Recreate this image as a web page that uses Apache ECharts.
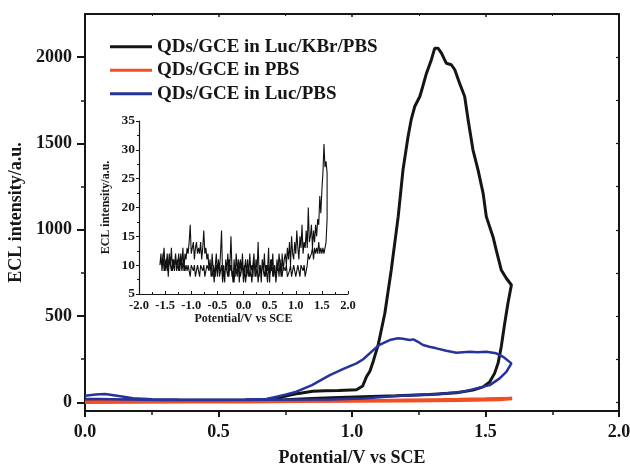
<!DOCTYPE html>
<html>
<head>
<meta charset="utf-8">
<script src="https://cdn.jsdelivr.net/npm/echarts@6/dist/echarts.min.js"></script>
<style>
html,body{margin:0;padding:0;background:#fff;}
#chart{width:630px;height:470px;}
</style>
</head>
<body>
<div id="chart"></div>
<script>
// ---------- main plot data ----------
const seriesNames = ['QDs/GCE in Luc/KBr/PBS', 'QDs/GCE in PBS', 'QDs/GCE in Luc/PBS'];

const blackPot = [0.00,0.10,0.20,0.30,0.40,0.50,0.60,0.68,0.72,0.76,0.80,0.853,0.90,0.95,1.017,1.04,1.054,1.067,1.08,1.092,1.098,1.123,1.147,1.173,1.191,1.210,1.222,1.235,1.254,1.265,1.279,1.297,1.310,1.322,1.335,1.353,1.372,1.385,1.403,1.422,1.435,1.453,1.472,1.491,1.503,1.528,1.540,1.559,1.578,1.597,
  1.584,1.572,1.559,1.547,1.534,1.516,1.491,1.453,1.391,1.291,1.166,1.042,0.95,0.85,0.75,0.60,0.40,0.20,0.00];
const blackECL = [15,14,13,13,13,13,14,16,25,40,52,65,67,69,73,95,148,180,240,303,332,516,767,1076,1347,1540,1640,1714,1772,1830,1907,1984,2052,2052,2023,1965,1956,1927,1849,1772,1636,1463,1347,1212,1076,960,883,767,719,680,
  574,458,322,226,168,119,90,71,56,46,38,33,28,22,15,12,11,11,12];

const redPot = [0.00,0.10,0.20,0.30,0.40,0.50,0.60,0.70,0.80,0.90,1.00,1.10,1.20,1.30,1.40,1.50,1.55,1.60,1.60,1.55,1.50,1.40,1.30,1.20,1.00,0.80,0.60,0.40,0.20,0.00];
const redECL = [2,3,3,4,4,5,5,6,7,8,9,10,12,14,16,19,21,22,18,17,15,13,11,10,8,6,4,3,2,1];

const bluePot = [0.00,0.04,0.075,0.12,0.18,0.25,0.35,0.50,0.60,0.68,0.717,0.75,0.792,0.85,0.917,0.97,1.017,1.042,1.092,1.105,1.141,1.173,1.19,1.216,1.23,1.247,1.266,1.29,1.316,1.353,1.391,1.441,1.47,1.503,1.540,1.566,1.597,
  1.578,1.553,1.516,1.466,1.416,1.329,1.166,1.042,0.917,0.70,0.50,0.30,0.15,0.05,0.00];
const blueECL = [38,45,48,38,24,18,16,15,16,20,33,45,62,100,158,195,226,250,320,335,361,371,368,361,365,351,332,322,313,299,288,293,290,293,284,264,226,
  177,139,100,81,62,48,37,23,17,15,14,14,16,19,20];

// ---------- inset data ----------
const insetPot = [
  -1.60,-1.58,-1.56,-1.54,-1.52,-1.50,-1.48,-1.46,-1.44,-1.42,
  -1.40,-1.38,-1.36,-1.34,-1.32,-1.30,-1.28,-1.26,-1.24,-1.22,
  -1.20,-1.18,-1.16,-1.14,-1.12,-1.10,-1.08,-1.06,-1.04,-1.02,
  -1.00,-0.98,-0.96,-0.94,-0.92,-0.90,-0.88,-0.86,-0.84,-0.82,
  -0.80,-0.78,-0.76,-0.74,-0.72,-0.70,-0.68,-0.66,-0.64,-0.62,
  -0.60,-0.58,-0.56,-0.54,-0.52,-0.50,-0.48,-0.46,-0.44,-0.42,
  -0.40,-0.38,-0.36,-0.34,-0.32,-0.30,-0.28,-0.26,-0.24,-0.22,
  -0.20,-0.18,-0.16,-0.14,-0.12,-0.10,-0.08,-0.06,-0.04,-0.02,
  0.00,0.02,0.04,0.06,0.08,0.10,0.12,0.14,0.16,0.18,
  0.20,0.22,0.24,0.26,0.28,0.30,0.32,0.34,0.36,0.38,
  0.40,0.42,0.44,0.46,0.48,0.50,0.52,0.54,0.56,0.58,
  0.60,0.62,0.64,0.66,0.68,0.70,0.72,0.74,0.76,0.78,
  0.80,0.82,0.84,0.86,0.88,0.90,0.92,0.94,0.96,0.98,
  1.00,1.02,1.04,1.06,1.08,1.10,1.12,1.14,1.16,1.18,
  1.20,1.22,1.24,1.26,1.28,1.30,1.32,1.34,1.36,1.38,
  1.40,1.42,1.44,1.46,1.48,1.50,1.52,1.54,1.56,1.58,
  1.60];
// forward sweep (-1.6 -> 1.6), one value per potential above
const insetFwdECL = [
  10,12,9,11,13,9,10,12,8,11,10,13,9,11,10,12,9,10,12,9,11,10,13,9,12,
  11,13,12,14,17,12,13,14,11,13,14,12,13,12,14,11,13,16,12,13,11,12,
  9,11,8,12,9,7,10,12,8,11,
  9,12,16,8,10,7,11,9,12,8,
  10,15,9,7,11,8,12,9,10,7,
  11,9,12,8,10,7,9,11,8,12,
  9,7,10,12,8,11,9,14,8,10,
  7,11,9,12,8,10,9,13,7,11,
  9,12,8,10,7,11,9,12,10,8,12,9,11,
  12,10,13,11,14,10,15,12,11,14,
  12,16,13,11,15,13,17,12,14,13,
  16,13,20,14,15,17,13,16,14,17,
  15,18,17,22,19,23,
  26,31,27,28,26];
// reverse sweep (1.6 -> -1.6)
const insetRevECL = [
  18,14,13,12,13,
  12,13,12,14,12,13,12,13,11,13,12,12,11,12,10,
  9,8,10,9,9,10,8,9,10,9,8,9,10,9,8,10,9,9,8,10,9,
  9,10,8,9,11,8,10,9,7,10,
  9,8,11,9,8,10,7,9,10,8,
  9,11,8,10,9,7,10,8,9,11,
  8,10,9,8,10,9,8,11,9,7,
  10,9,8,10,11,8,9,10,7,9,
  8,10,9,11,8,9,10,8,9,7,
  10,9,8,11,9,10,8,9,10,8,
  9,10,9,
  9,10,9,8,10,9,9,10,8,9,10,9,8,10,9,9,10,8,9,10,9,10,
  9,11,10,9,12,10,9,11,10,12,9,10,11,9,10,12,10,9,11,10,9,12,10,11,10];

// ---------- tick values ----------
const mainYTicks = [0, 500, 1000, 1500, 2000];
const mainYMinor = [250, 750, 1250, 1750];
const mainYRight = [0, 250, 500, 750, 1000, 1250, 1500, 1750, 2000, 2250];

const zip = (a, b) => a.map((v, i) => [v, b[i]]);
const insetRevPot = insetPot.slice().reverse();

const FONT = '"Liberation Serif", "Times New Roman", serif';
const INK = '#161616';
const bold = (size) => ({ fontFamily: FONT, fontWeight: 'bold', fontSize: size, color: INK });

const chart = echarts.init(document.getElementById('chart'), null, { renderer: 'canvas' });

const option = {
  animation: false,
  backgroundColor: '#ffffff',
  grid: [
    { left: 85, top: 14, width: 534, height: 397, containLabel: false, outerBoundsMode: 'none' },
    { left: 139, top: 121, width: 209, height: 173, containLabel: false, outerBoundsMode: 'none' }
  ],
  legend: {
    orient: 'vertical',
    left: 110,
    top: 35,
    padding: 0,
    itemWidth: 42,
    itemHeight: 3,
    itemGap: 0,
    icon: 'rect',
    data: seriesNames,
    textStyle: Object.assign(bold(19), { lineHeight: 23.5 })
  },
  xAxis: [
    {
      gridIndex: 0, type: 'value', min: 0, max: 2, interval: 0.5, position: 'bottom',
      axisLine: { onZero: false, lineStyle: { color: INK, width: 2 } },
      axisTick: { length: 6, lineStyle: { color: INK, width: 2 } },
      minorTick: { show: true, splitNumber: 2, length: 4, lineStyle: { color: INK, width: 1.5 } },
      axisLabel: Object.assign(bold(18), { margin: 12, formatter: v => v.toFixed(1) }),
      splitLine: { show: false },
      name: 'Potential/V vs SCE', nameLocation: 'middle', nameGap: 38,
      nameTextStyle: bold(18)
    },
    {
      gridIndex: 0, type: 'value', min: 0, max: 2, interval: 0.5, position: 'top',
      axisLine: { onZero: false, lineStyle: { color: INK, width: 2 } },
      axisTick: { inside: true, length: 3, lineStyle: { color: INK, width: 1.5 } },
      minorTick: { show: true, splitNumber: 2, length: 2, lineStyle: { color: INK, width: 1 } },
      axisLabel: { show: false },
      splitLine: { show: false }
    },
    {
      gridIndex: 1, type: 'value', min: -2, max: 2, interval: 0.5, position: 'bottom',
      axisLine: { onZero: false, lineStyle: { color: INK, width: 1.2 } },
      axisTick: { inside: true, length: 3, lineStyle: { color: INK, width: 1 } },
      minorTick: { show: true, splitNumber: 2, length: 2, lineStyle: { color: INK, width: 1 } },
      axisLabel: Object.assign(bold(12.5), { margin: 5, formatter: v => v.toFixed(1) }),
      splitLine: { show: false },
      name: 'Potential/V vs SCE', nameLocation: 'middle', nameGap: 19,
      nameTextStyle: bold(12)
    }
  ],
  yAxis: [
    {
      gridIndex: 0, type: 'value', min: -50, max: 2250, position: 'left',
      axisLine: { onZero: false, lineStyle: { color: INK, width: 2 } },
      axisTick: { customValues: mainYTicks, length: 8, lineStyle: { color: INK, width: 2 } },
      axisLabel: Object.assign(bold(18), { customValues: mainYTicks, margin: 13, formatter: v => String(v) }),
      splitLine: { show: false },
      name: 'ECL intensity/a.u.', nameLocation: 'middle', nameGap: 53,
      nameTextStyle: bold(18)
    },
    {
      gridIndex: 0, type: 'value', min: -50, max: 2250, position: 'left',
      axisLine: { show: false },
      axisTick: { customValues: mainYMinor, length: 4, lineStyle: { color: INK, width: 1.5 } },
      axisLabel: { show: false },
      splitLine: { show: false }
    },
    {
      gridIndex: 0, type: 'value', min: -50, max: 2250, position: 'right',
      axisLine: { onZero: false, lineStyle: { color: INK, width: 2 } },
      axisTick: { customValues: mainYRight, inside: true, length: 3, lineStyle: { color: INK, width: 1.2 } },
      axisLabel: { show: false },
      splitLine: { show: false }
    },
    {
      gridIndex: 1, type: 'value', min: 5, max: 35, interval: 5, position: 'left',
      axisLine: { onZero: false, lineStyle: { color: INK, width: 1.2 } },
      axisTick: { length: 3, lineStyle: { color: INK, width: 1 } },
      minorTick: { show: true, splitNumber: 2, length: 2, lineStyle: { color: INK, width: 1 } },
      axisLabel: Object.assign(bold(13.5), { margin: 4 }),
      splitLine: { show: false },
      name: 'ECL intensity/a.u.', nameLocation: 'middle', nameGap: 27,
      nameTextStyle: bold(12)
    }
  ],
  series: [
    {
      name: seriesNames[0], type: 'line', xAxisIndex: 0, yAxisIndex: 0,
      data: zip(blackPot, blackECL), showSymbol: false, symbol: 'none',
      color: '#151515', lineStyle: { width: 3, color: '#151515' }, z: 2
    },
    {
      name: seriesNames[1], type: 'line', xAxisIndex: 0, yAxisIndex: 0,
      data: zip(redPot, redECL), showSymbol: false, symbol: 'none',
      color: '#f24e24', lineStyle: { width: 3.5, color: '#f24e24' }, z: 3
    },
    {
      name: seriesNames[2], type: 'line', xAxisIndex: 0, yAxisIndex: 0,
      data: zip(bluePot, blueECL), showSymbol: false, symbol: 'none',
      color: '#26339a', lineStyle: { width: 2.5, color: '#26339a' }, z: 4
    },
    {
      name: 'inset', type: 'line', xAxisIndex: 2, yAxisIndex: 3,
      data: zip(insetPot, insetFwdECL).concat(zip(insetRevPot, insetRevECL)),
      showSymbol: false, symbol: 'none',
      lineStyle: { width: 1.1, color: '#111' }, z: 5
    }
  ]
};
chart.setOption(option);
</script>
</body>
</html>
